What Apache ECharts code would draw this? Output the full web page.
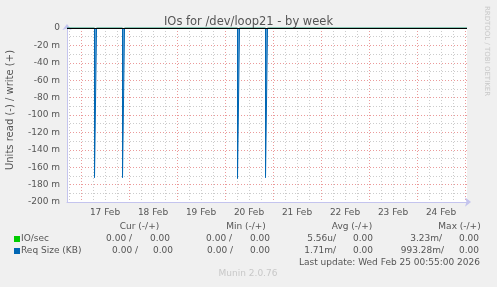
<!DOCTYPE html>
<html>
<head>
<meta charset="utf-8">
<script src="https://cdn.jsdelivr.net/npm/echarts@6/dist/echarts.min.js"></script>
<style>
html,body{margin:0;padding:0;background:#f0f0f0;}
#c{width:497px;height:287px;}
</style>
</head>
<body>
<div id="c"></div>
<script>
// ---- data (x in hours since 17 Feb 00:00) ----
const xMin = -7;
const xMax = 193;
const dayLabels = ['17 Feb','18 Feb','19 Feb','20 Feb','21 Feb','22 Feb','23 Feb','24 Feb'];
const spikeStart = [6.75, 20.75, 78.25, 92.25];
const spikeEnd   = [7.75, 21.75, 79.25, 93.25];
const reqSizeRead = [-0.172, -0.172, -0.173, -0.172];
const ioSecRead   = [-0.00323, -0.00323, -0.00323, -0.00323];
const seriesNames = ['IO/sec', 'Req Size (KB)'];
const seriesColors = ['#00cc00', '#0066b3'];
const legendHeaders = ['Cur (-/+)', 'Min (-/+)', 'Avg (-/+)', 'Max (-/+)'];
const ioSecStats   = ['0.00 /', '0.00', '0.00 /', '0.00', '5.56u/', '0.00', '3.23m/', '0.00'];
const reqSizeStats = ['0.00 /', '0.00', '0.00 /', '0.00', '1.71m/', '0.00', '993.28m/', '0.00'];
const lastUpdate = 'Last update: Wed Feb 25 00:55:00 2026';
const titleText = 'IOs for /dev/loop21 - by week';
const yName = 'Units read (-) / write (+)';

function buildSpikes(vals) {
  const d = [[xMin, 0]];
  for (let i = 0; i < spikeStart.length; i++) {
    d.push([spikeStart[i], 0], [spikeStart[i], vals[i]], [spikeEnd[i], vals[i]], [spikeEnd[i], 0]);
  }
  d.push([xMax, 0]);
  return d;
}

const midnights = dayLabels.map((_, i) => 24 * i).concat([192]);
const noons = dayLabels.map((_, i) => 12 + 24 * i);
const sixHours = [];
for (let h = -6; h < xMax; h += 6) if (h % 24 !== 0) sixHours.push(h);

const FONT = 'DejaVu Sans';
const TXT = '#555';
const AXC = '#c4c4ee';

const row1Right = [132, 170, 232, 270, 336, 373, 442, 479];
const row2Right = [138, 173, 233, 270, 336, 373, 444, 479];
const headerCenter = [139.5, 246, 352, 459.5];

const graphics = [];
graphics.push({type:'text', x:10, y:110, rotation:Math.PI/2,
  style:{text:yName, font:'10px "DejaVu Sans"', fill:TXT, align:'center', verticalAlign:'middle'}});
graphics.push({type:'text', x:487, y:51, rotation:-Math.PI/2,
  style:{text:'RRDTOOL / TOBI OETIKER', font:'7px "DejaVu Sans"', fill:'#c8c8c8', align:'center', verticalAlign:'middle'}});
legendHeaders.forEach((h, i) => graphics.push({type:'text', x:headerCenter[i], y:227,
  style:{text:h, font:'9px "DejaVu Sans"', fill:TXT, align:'center', verticalAlign:'middle'}}));
[[ioSecStats, row1Right, 239], [reqSizeStats, row2Right, 251]].forEach(([stats, rights, y], r) => {
  graphics.push({type:'rect', shape:{x:14, y:y-3, width:6, height:6}, style:{fill:seriesColors[r]}});
  graphics.push({type:'text', x:21, y:y, style:{text:seriesNames[r], font:'9px "DejaVu Sans"', fill:TXT, align:'left', verticalAlign:'middle'}});
  stats.forEach((s, i) => graphics.push({type:'text', x:rights[i], y:y,
    style:{text:s, font:'9px "DejaVu Sans"', fill:TXT, align:'right', verticalAlign:'middle'}}));
});
graphics.push({type:'text', x:299, y:263, style:{text:lastUpdate, font:'9px "DejaVu Sans"', fill:TXT, align:'left', verticalAlign:'middle'}});
graphics.push({type:'text', x:248, y:274, style:{text:'Munin 2.0.76', font:'9px "DejaVu Sans"', fill:'#c8c8c8', align:'center', verticalAlign:'middle'}});

const chart = echarts.init(document.getElementById('c'), null, {renderer:'canvas'});
chart.setOption({
  backgroundColor:'#f0f0f0',
  animation:false,
  title:{text:titleText, left:'center', top:11, textStyle:{fontFamily:FONT, fontSize:11.5, fontWeight:'normal', color:TXT}},
  grid:{left:67, top:28, width:400, height:174, show:true, backgroundColor:'#ffffff', borderWidth:0},
  xAxis:[
    {type:'value', min:xMin, max:xMax,
     axisLine:{show:true, onZero:false, lineStyle:{color:AXC, width:1}, symbol:['none','arrow'], symbolSize:[7,6], symbolOffset:[0,4]},
     axisTick:{show:false, customValues:midnights},
     axisLabel:{show:true, customValues:noons, formatter:(v)=>dayLabels[Math.round((v-12)/24)], fontFamily:FONT, fontSize:9, color:TXT, margin:6},
     splitLine:{show:true, lineStyle:{color:'#eb9a9a', type:[1,2], width:1}}},
    {type:'value', min:xMin, max:xMax, position:'bottom',
     axisLine:{show:false, onZero:false}, axisLabel:{show:false},
     axisTick:{show:false, customValues:sixHours},
     splitLine:{show:true, lineStyle:{color:'#cccccc', type:[1,2], width:1}}}
  ],
  yAxis:{type:'value', min:-0.2, max:0, interval:0.02,
    axisLine:{show:true, onZero:false, lineStyle:{color:AXC, width:1}, symbol:['none','arrow'], symbolSize:[7,6], symbolOffset:[0,4]},
    axisTick:{show:false},
    minorTick:{show:false, splitNumber:2},
    minorSplitLine:{show:true, lineStyle:{color:'#cccccc', type:[1,2], width:1}},
    axisLabel:{fontFamily:FONT, fontSize:9, color:TXT, margin:7,
      formatter:(v)=> Math.abs(v) < 1e-9 ? '0' : Math.round(v*1000) + ' m'},
    splitLine:{show:true, lineStyle:{color:'#eb9a9a', type:[1,2], width:1}}},
  series:[
    {name:seriesNames[0], type:'line', xAxisIndex:0, data:buildSpikes(ioSecRead), showSymbol:false, symbol:'none',
     lineStyle:{color:seriesColors[0], width:1}, areaStyle:{color:'#66dd66', opacity:1}, z:3},
    {name:seriesNames[1], type:'line', xAxisIndex:0, data:buildSpikes(reqSizeRead), showSymbol:false, symbol:'none',
     lineStyle:{color:seriesColors[1], width:1}, areaStyle:{color:'#5a9fd6', opacity:1}, z:4,
     markLine:{silent:true, symbol:'none', label:{show:false}, z:10,
       lineStyle:{color:'#000000', width:1.2, type:'solid'}, data:[{yAxis:0}]}}
  ],
  graphic:graphics
});
</script>
</body>
</html>
